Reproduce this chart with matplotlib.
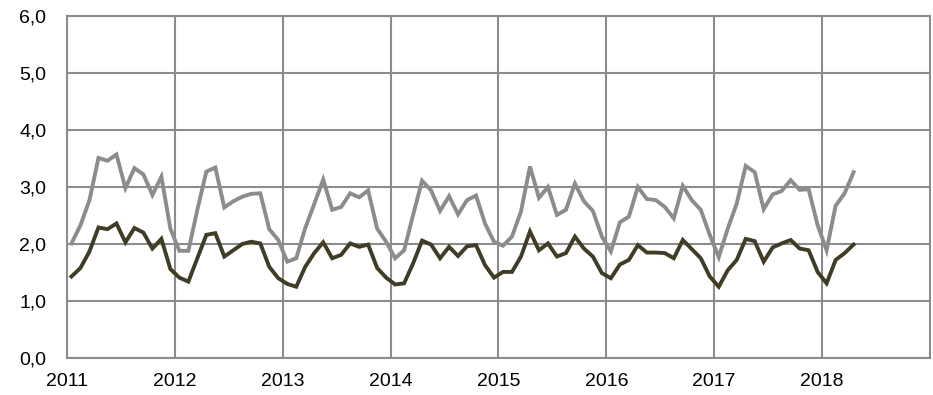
import matplotlib
matplotlib.use("Agg")
import matplotlib.pyplot as plt
import numpy as np

plt.rcParams['font.family'] = ['Liberation Sans', 'DejaVu Sans']

years = ["2011", "2012", "2013", "2014", "2015", "2016", "2017", "2018"]

# monthly values, Jan 2011 - Apr 2018
upper = [
    2.01, 2.33, 2.77, 3.51, 3.46, 3.57, 2.98, 3.33, 3.22, 2.86, 3.18, 2.27,
    1.88, 1.88, 2.60, 3.27, 3.34, 2.64, 2.75, 2.83, 2.88, 2.89, 2.26, 2.07,
    1.69, 1.75, 2.28, 2.70, 3.13, 2.60, 2.65, 2.89, 2.82, 2.94, 2.27, 2.04,
    1.75, 1.89, 2.51, 3.11, 2.94, 2.58, 2.84, 2.52, 2.77, 2.85, 2.36, 2.04,
    1.97, 2.13, 2.57, 3.36, 2.81, 3.00, 2.51, 2.60, 3.06, 2.75, 2.58, 2.13,
    1.87, 2.38, 2.48, 3.00, 2.79, 2.77, 2.65, 2.45, 3.02, 2.77, 2.60, 2.16,
    1.77, 2.27, 2.71, 3.37, 3.26, 2.61, 2.87, 2.93, 3.12, 2.95, 2.96, 2.33,
    1.89, 2.67, 2.89, 3.26,
]
lower = [
    1.43, 1.58, 1.87, 2.29, 2.26, 2.36, 2.03, 2.28, 2.20, 1.92, 2.09, 1.56,
    1.41, 1.34, 1.75, 2.16, 2.19, 1.78, 1.89, 2.00, 2.04, 2.01, 1.60, 1.40,
    1.30, 1.25, 1.60, 1.84, 2.03, 1.75, 1.81, 2.01, 1.95, 1.99, 1.58, 1.41,
    1.29, 1.31, 1.66, 2.06, 1.99, 1.75, 1.95, 1.79, 1.96, 1.98, 1.63, 1.41,
    1.51, 1.51, 1.78, 2.22, 1.89, 2.01, 1.78, 1.84, 2.13, 1.92, 1.78, 1.49,
    1.40, 1.64, 1.72, 1.98, 1.85, 1.85, 1.84, 1.75, 2.07, 1.91, 1.75, 1.43,
    1.25, 1.54, 1.72, 2.09, 2.05, 1.69, 1.94, 2.01, 2.07, 1.92, 1.89, 1.51,
    1.31, 1.72, 1.84, 1.99,
]

grid_c = '#8c8c8c'

fig = plt.figure(figsize=(9.33, 3.95), dpi=100)
ax = fig.add_axes([67/933, 37/395, 863/933, 342/395])

x = np.arange(len(upper)) + 0.5
ax.plot(x, upper, color='#8c8c8c', linewidth=2.8, solid_joinstyle='miter')
ax.plot(x, lower, color='#403c26', linewidth=2.8, solid_joinstyle='miter')

ax.set_xlim(0, 96)
ax.set_ylim(0, 6)
ax.set_xticks(np.arange(0, 96, 12))
ax.set_xticklabels(years)
ax.set_yticks(np.arange(0, 7, 1))
ax.set_yticklabels([f"{v:.1f}".replace('.', ',') for v in range(0, 7)])

ax.grid(True, color=grid_c, linewidth=1.5)
ax.set_axisbelow(True)
for s in ax.spines.values():
    s.set_color(grid_c)
    s.set_linewidth(1.5)
ax.tick_params(length=0, labelsize=14, colors='black')
ax.tick_params(axis='x', pad=11)
ax.tick_params(axis='y', pad=15)

fig.savefig("out.png", dpi=100)
